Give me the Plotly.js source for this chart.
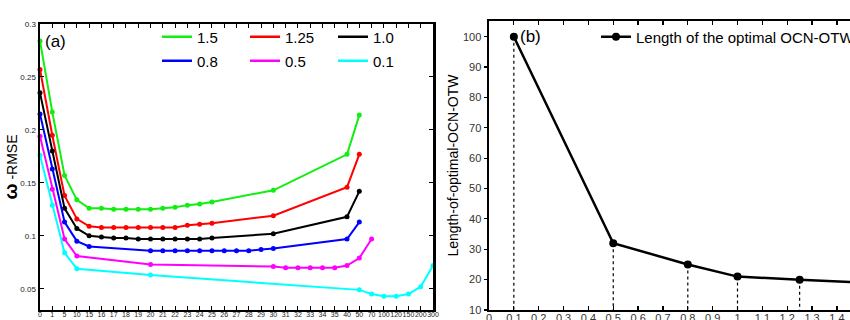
<!DOCTYPE html>
<html>
<head>
<meta charset="utf-8">
<script src="https://cdn.plot.ly/plotly-3.0.1.min.js"></script>
<style>
  html, body { margin: 0; padding: 0; background: #fff; }
  #chart { width: 850px; height: 320px; }
</style>
</head>
<body>
<div id="chart"></div>
<script>
// Panel (a): ω-RMSE against the window parameter, one curve per threshold
const categories = ['0','1','5','10','15','16','17','18','19','20','21','22','23','24','25',
  '26','27','28','29','30','31','32','33','34','35','40','50','70','100','120','150','200','300'];

const x15 = ['0','1','5','10','15','16','17','18','19','20','21','22','23','24','25','30','40','50'];
const y15 = [0.284,0.217,0.157,0.134,0.126,0.126,0.125,0.125,0.125,0.125,0.126,0.127,0.129,0.130,0.132,0.143,0.177,0.214];

const x125 = ['0','1','5','10','15','16','17','18','19','20','21','22','23','24','25','30','40','50'];
const y125 = [0.257,0.195,0.138,0.116,0.109,0.108,0.108,0.108,0.108,0.108,0.108,0.108,0.110,0.111,0.112,0.119,0.146,0.177];

const x10 = ['0','1','5','10','15','16','17','18','19','20','21','22','23','24','25','30','40','50'];
const y10 = [0.235,0.180,0.126,0.107,0.100,0.099,0.098,0.098,0.097,0.097,0.097,0.097,0.097,0.097,0.098,0.102,0.118,0.142];

const x08 = ['0','1','5','10','15','20','21','22','23','24','25','26','27','28','29','30','40','50'];
const y08 = [0.215,0.163,0.113,0.095,0.090,0.086,0.086,0.086,0.086,0.086,0.086,0.086,0.086,0.086,0.087,0.088,0.097,0.113];

const x05 = ['0','1','5','10','20','30','31','32','33','34','35','40','50','70'];
const y05 = [0.194,0.144,0.097,0.081,0.073,0.071,0.070,0.070,0.070,0.070,0.070,0.072,0.079,0.097];

const x01 = ['0','1','5','10','20','50','70','100','120','150','200','300'];
const y01 = [0.176,0.129,0.084,0.069,0.063,0.049,0.045,0.043,0.043,0.045,0.052,0.072];

const seriesNames = ['1.5','1.25','1.0','0.8','0.5','0.1'];
const yTicksA = [0.05, 0.1, 0.15, 0.2, 0.25, 0.3];

// Panel (b): length of the optimal OCN-OTW per threshold
const thresholds = [0.1, 0.5, 0.8, 1.0, 1.25, 1.5];
const lengths = [100, 32, 25, 21, 20, 19];
const xTicksB = [0,0.1,0.2,0.3,0.4,0.5,0.6,0.7,0.8,0.9,1,1.1,1.2,1.3,1.4];

const FONT = 'Arial, "Liberation Sans", sans-serif';
const colors = ['#11ee11', '#ff0000', '#000000', '#0000ff', '#ff00ff', '#00ffff'];
const xs = [x15, x125, x10, x08, x05, x01];
const ys = [y15, y125, y10, y08, y05, y01];

const idx = c => categories.indexOf(c);

const traces = [];
// data curves
for (let k = 0; k < 6; k++) {
  traces.push({
    x: xs[k].map(idx), y: ys[k], xaxis: 'x', yaxis: 'y',
    mode: 'lines+markers', name: seriesNames[k], showlegend: false,
    line: { color: colors[k], width: 2 },
    marker: { color: colors[k], size: 5 },
    cliponaxis: false
  });
}
// legend entries (line only), two rows of three
for (let k = 0; k < 6; k++) {
  traces.push({
    x: [null], y: [null], xaxis: 'x', yaxis: 'y',
    mode: 'lines', name: seriesNames[k], showlegend: true,
    legend: k < 3 ? 'legend' : 'legend2',
    line: { color: colors[k], width: 2.5 }
  });
}

// dotted drop lines from each point of panel (b) to the axis
const dropX = [], dropY = [];
thresholds.forEach((t, i) => { dropX.push(t, t, null); dropY.push(lengths[i], 10, null); });
traces.push({
  x: dropX, y: dropY, xaxis: 'x2', yaxis: 'y2', mode: 'lines', showlegend: false,
  line: { color: '#000', width: 1.2, dash: 'dot' }, hoverinfo: 'skip'
});
traces.push({
  x: thresholds, y: lengths, xaxis: 'x2', yaxis: 'y2',
  mode: 'lines+markers', name: 'Length of the optimal OCN-OTW',
  legend: 'legend3', showlegend: true,
  line: { color: '#000', width: 2.5 }, marker: { color: '#000', size: 8 },
  cliponaxis: false
});

const W = 850, H = 320;
const px = v => v / W, py = v => 1 - v / H;

const legendCommon = {
  orientation: 'h', xanchor: 'left', yanchor: 'middle',
  bgcolor: 'rgba(0,0,0,0)', borderwidth: 0,
  font: { family: FONT, size: 15, color: '#000' },
  entrywidth: 43, entrywidthmode: 'pixels', itemwidth: 30
};

const layout = {
  width: W, height: H,
  margin: { l: 0, r: 0, t: 0, b: 0, pad: 0, autoexpand: false },
  paper_bgcolor: '#fff', plot_bgcolor: '#fff',
  font: { family: FONT, color: '#000' },
  hovermode: false,
  xaxis: {
    domain: [px(40), px(433)], range: [0, categories.length - 1],
    tickmode: 'array', tickvals: categories.map((c, i) => i), ticktext: categories,
    tickangle: 0, tickfont: { size: 7, color: '#222' }, ticklabelstandoff: -3,
    ticks: 'inside', ticklen: 4, tickwidth: 1, tickcolor: '#000',
    showline: true, linewidth: 2, linecolor: '#000', mirror: 'ticks',
    showgrid: false, zeroline: false, anchor: 'y'
  },
  yaxis: {
    domain: [py(310), py(24)], range: [0.03, 0.3],
    tickmode: 'array', tickvals: yTicksA, ticktext: yTicksA.map(String),
    tickfont: { size: 8, color: '#222' },
    ticks: 'inside', ticklen: 4, tickwidth: 1, tickcolor: '#000',
    showline: true, linewidth: 2.5, linecolor: '#000', mirror: 'ticks',
    showgrid: false, zeroline: false, anchor: 'x',
    title: { text: '<b><span style="font-size:19px">ω</span></b> -RMSE', font: { size: 14, color: '#000' }, standoff: 1 }
  },
  xaxis2: {
    domain: [px(489), 1], range: [0, (W - 489) / 248.5],
    tickmode: 'array', tickvals: xTicksB, ticktext: xTicksB.map(String),
    tickangle: 0, tickfont: { size: 11, color: '#333' }, ticklabelstandoff: -3,
    ticks: 'inside', ticklen: 4, tickwidth: 1.2, tickcolor: '#000',
    showline: true, linewidth: 2, linecolor: '#000', mirror: 'ticks',
    showgrid: false, zeroline: false, anchor: 'y2'
  },
  yaxis2: {
    domain: [py(310), py(21)], range: [10, 10 + (310 - 21) / 3.037],
    tickmode: 'linear', tick0: 10, dtick: 10,
    tickfont: { size: 11, color: '#333' },
    ticks: 'outside', ticklen: 3, tickwidth: 1.2, tickcolor: '#000',
    showline: true, linewidth: 2.5, linecolor: '#000', mirror: false,
    showgrid: false, zeroline: false, anchor: 'x2',
    title: { text: 'Length-of-optimal-OCN-OTW', font: { size: 14, color: '#000' }, standoff: 1 }
  },
  legend: Object.assign({ x: px(157), y: py(37) }, legendCommon),
  legend2: Object.assign({ x: px(157), y: py(61) }, legendCommon),
  legend3: Object.assign({}, legendCommon, { x: px(596), y: py(37), entrywidth: 300 }),
  annotations: [
    { text: '(a)', xref: 'paper', yref: 'paper', x: px(43), y: py(42), xanchor: 'left', yanchor: 'middle',
      showarrow: false, font: { family: FONT, size: 17, color: '#000' } },
    { text: '(b)', xref: 'paper', yref: 'paper', x: px(518), y: py(37), xanchor: 'left', yanchor: 'middle',
      showarrow: false, font: { family: FONT, size: 17, color: '#000' } }
  ]
};

Plotly.newPlot('chart', traces, layout, { staticPlot: true, displayModeBar: false });
</script>
</body>
</html>
